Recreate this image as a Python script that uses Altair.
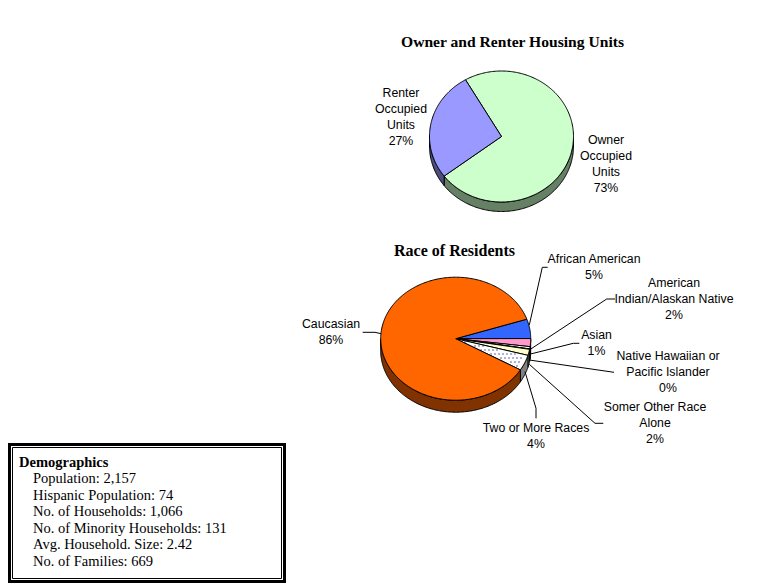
import math
import altair as alt
import pandas as pd

# ---- values ----
housing_names = ["Owner Occupied Units", "Renter Occupied Units"]
housing_shares = [73.0, 27.0]
housing_fill = ["#CCFFCC", "#9999FF"]
housing_side = ["#668066", "#4D4D80"]

race_names = ["African American", "American Indian/Alaskan Native", "Asian",
              "Native Hawaiian or Pacific Islander", "Somer Other Race Alone",
              "Two or More Races", "Caucasian"]
race_shares = [5.1, 2.1, 0.6, 0.1, 1.6, 4.1, 86.4]
race_fill = ["#3366FF", "#FF99CC", "#FFFFFF", "#000000", "#FFFFCC", "#FFFFFF", "#FF6600"]
race_side = ["#1A3380", "#804D66", "#808080", "#000000", "#808066", "#808080", "#803300"]

demo_title = "Demographics"
demo_lines = ["Population: 2,157", "Hispanic Population: 74", "No. of Households: 1,066",
              "No. of Minority Households: 131", "Avg. Household. Size: 2.42", "No. of Families: 669"]

# ---- layout (page pixels) ----
W, H = 766, 576
SANS, SERIF = "Liberation Sans", "Liberation Serif"
xs = alt.Scale(domain=[8, 8 + W], range=[0, W], nice=False, zero=False)
ys = alt.Scale(domain=[8, 8 + H], range=[0, H], nice=False, zero=False)
X = alt.X("x:Q", scale=xs, axis=None)
Y = alt.Y("y:Q", scale=ys, axis=None)
X2, Y2 = alt.X2("x2:Q"), alt.Y2("y2:Q")

layers = []


def pt(c, ang):
    a = math.radians(ang)
    return c[0] + c[2] * math.sin(a), c[1] - c[3] * math.cos(a)


def poly(rows, fill, width=1.0):
    df = pd.DataFrame([{"x": x, "y": y, "i": i} for i, (x, y) in enumerate(rows)])
    layers.append(alt.Chart(df).mark_line(fill=fill, stroke="#000000", strokeWidth=width,
                                          strokeJoin="miter", interpolate="linear")
                  .encode(x=X, y=Y, order="i:Q"))


def sweep(a, b):
    n = max(2, int(abs(b - a)) + 2)
    return [a + (b - a) * k / (n - 1) for k in range(n)]


def pie(c, depth, start, shares, fills, sides):
    a = start
    spans = []
    total = sum(shares)
    for s in shares:
        spans.append((a, a + 360 * s / total))
        a += 360 * s / total
    # side walls (front half only)
    for (a0, a1), side in zip(spans, sides):
        for off in (0, 360):
            lo, hi = max(a0, 90 + off), min(a1, 270 + off)
            if hi > lo:
                top = [pt(c, t) for t in sweep(lo, hi)]
                bot = [(x, y + depth) for x, y in reversed(top)]
                rows = top + bot + top[:1]
                poly(rows, side)
    # top faces
    for (a0, a1), f in zip(spans, fills):
        rows = [(c[0], c[1])] + [pt(c, t) for t in sweep(a0, a1)] + [(c[0], c[1])]
        poly(rows, f)
    return spans


def text(rows, size, font=SANS, weight="normal", align="center"):
    df = pd.DataFrame(rows, columns=["x", "y", "t"])
    layers.append(alt.Chart(df).mark_text(fontSize=size, font=font, fontWeight=weight, align=align,
                                          baseline="middle", color="#000000")
                  .encode(x=X, y=Y, text="t:N"))


def leader(pts, idx):
    df = pd.DataFrame([{"x": x, "y": y, "i": i} for i, (x, y) in enumerate(pts)])
    layers.append(alt.Chart(df).mark_line(stroke="#000000", strokeWidth=1).encode(x=X, y=Y, order="i:Q"))


# housing pie
pie((501.5, 136.5, 72, 65.5), 9.5, -30, housing_shares, housing_fill, housing_side)

# race pie
rc = (455.7, 338.7, 75, 61.5)
spans = pie(rc, 12, 71.5, race_shares, race_fill, race_side)

# dotted pattern of the "Two or More Races" wedge
a0, a1 = spans[5]
dots = []
for j in range(int(rc[1]), int(rc[1]) + 40, 4):
    for i in range(int(rc[0]) + 8, int(rc[0]) + 76, 4):
        x = i + (2 if (j // 4) % 2 else 0)
        u, v = (x - rc[0]) / rc[2], (j - rc[1]) / rc[3]
        ang = math.degrees(math.atan2(u, -v))
        if a0 + 1.5 < ang < a1 - 1.5 and u * u + v * v < 0.93:
            dots.append({"x": x, "y": j})
layers.append(alt.Chart(pd.DataFrame(dots)).mark_square(size=1.5, color="#000080", opacity=1).encode(x=X, y=Y))

# leader lines (page pixels)
leaders = [
    [(547.7, 267.3), (542.3, 267.3), (529.3, 325)],
    [(615, 299), (606.7, 299), (529.3, 350)],
    [(579.3, 343.3), (573.3, 343.3), (529.3, 354.3)],
    [(614, 372.3), (529.3, 360)],
    [(603.3, 423.3), (595, 423.3), (529.3, 364.3)],
    [(536, 418.3), (536, 408.3), (525, 371.7)],
    [(362.7, 332.3), (375, 332.3), (381, 333.7)],
]
for n, l in enumerate(leaders):
    leader(l, n)

# slice labels
text([(512.5, 42, "Owner and Renter Housing Units")], 15.6, SERIF, "bold")
text([(454.5, 251, "Race of Residents")], 16, SERIF, "bold")
text([
    (401, 93, "Renter"), (401, 109, "Occupied"), (401, 125, "Units"), (401, 141, "27%"),
    (606, 140, "Owner"), (606, 156, "Occupied"), (606, 172, "Units"), (606, 188, "73%"),
    (331, 324, "Caucasian"), (331, 340, "86%"),
    (594, 259, "African American"), (594, 275, "5%"),
    (674, 283, "American"), (674, 299, "Indian/Alaskan Native"), (674, 315, "2%"),
    (596.5, 335, "Asian"), (596.5, 351, "1%"),
    (668, 356, "Native Hawaiian or"), (668, 372, "Pacific Islander"), (668, 388, "0%"),
    (655, 407, "Somer Other Race"), (655, 423, "Alone"), (655, 439, "2%"),
    (536, 428, "Two or More Races"), (536, 444, "4%"),
], 12.3)

# demographics box (the page margin clips anything left of x=8)
box = pd.DataFrame([{"x": 9.5, "y": 444.5, "x2": 284.5, "y2": 581.5}])
layers.append(alt.Chart(box).mark_rect(fill="#FFFFFF", stroke="#000000", strokeWidth=3).encode(x=X, y=Y, x2=X2, y2=Y2))
box2 = pd.DataFrame([{"x": 12.5, "y": 447.5, "x2": 281.5, "y2": 578.5}])
layers.append(alt.Chart(box2).mark_rect(fill="#FFFFFF", stroke="#000000", strokeWidth=1).encode(x=X, y=Y, x2=X2, y2=Y2))
text([(19, 462.5, demo_title)], 14.5, SERIF, "bold", "left")
text([(33, 479 + 16.6 * k, s) for k, s in enumerate(demo_lines)], 14.5, SERIF, "normal", "left")

chart = alt.layer(*layers).properties(
    width=W, height=H, padding=0, autosize=alt.AutoSizeParams(type="none"), background="#FFFFFF"
).configure_view(stroke=None)

chart.save("out.html", embed_options={"renderer": "svg", "actions": False})
